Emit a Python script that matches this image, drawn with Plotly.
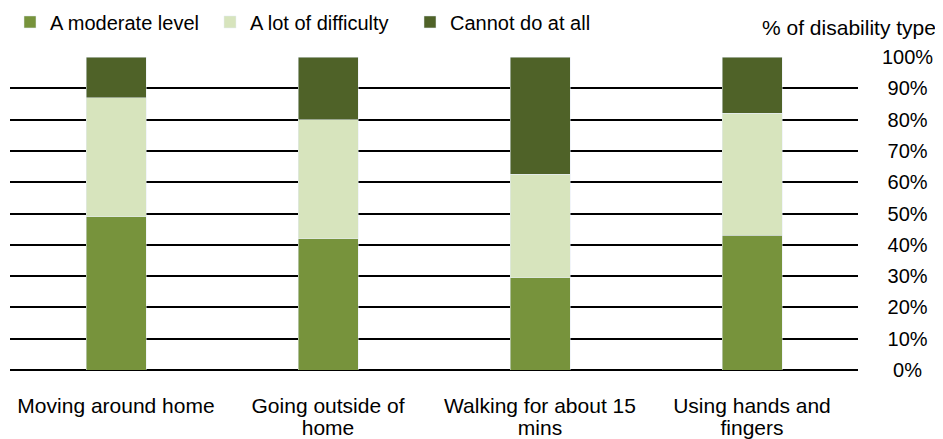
import plotly.graph_objects as go

categories = ["Moving around home", "Going outside of<br>home",
              "Walking for about 15<br>mins", "Using hands and<br>fingers"]
moderate = [49, 42, 29.5, 43]
lot_of_difficulty = [38, 38, 33, 39]
cannot = [13, 20, 37.5, 18]
tick_vals = [0, 10, 20, 30, 40, 50, 60, 70, 80, 90, 100]
tick_text = ["\u00a0\u00a00%", "\u00a010%", "\u00a020%", "\u00a030%", "\u00a040%", "\u00a050%",
             "\u00a060%", "\u00a070%", "\u00a080%", "\u00a090%", "100%"]

FONT = "Liberation Sans, Arial, sans-serif"


def big(label):
    # draw each line at 21px while the axis font (and thus the line gap) stays smaller
    return "<br>".join('<span style="font-size:21px">%s</span>' % part for part in label.split("<br>"))


fig = go.Figure()
fig.add_bar(x=categories, y=moderate, name="A moderate level", marker_color="#77933C", width=0.283)
fig.add_bar(x=categories, y=lot_of_difficulty, name="A lot of difficulty", marker_color="#D7E4BD", width=0.283)
fig.add_bar(x=categories, y=cannot, name="Cannot do at all", marker_color="#4F6228", width=0.283)

# page body has an 8px margin, so the figure is sized/offset to compensate
fig.update_layout(
    barmode="stack",
    width=935, height=431,
    margin=dict(l=2, r=85, t=49, b=69, autoexpand=False),
    plot_bgcolor="white", paper_bgcolor="white",
    font=dict(family=FONT, size=20, color="#000"),
    showlegend=True,
    legend=dict(orientation="h", x=0.0, xanchor="left", y=1.112, yanchor="middle",
                font=dict(size=20), entrywidth=155, traceorder="normal",
                itemwidth=30, bgcolor="rgba(0,0,0,0)"),
    xaxis=dict(showgrid=False, showline=False, ticks="", tickfont=dict(size=17),
               tickmode="array", tickvals=categories, ticktext=[big(c) for c in categories],
               ticklabelstandoff=25),
    yaxis=dict(side="right", range=[0, 100], tickvals=tick_vals, ticktext=tick_text,
               showgrid=True, gridcolor="#000", gridwidth=1.5, zeroline=True,
               zerolinecolor="#000", zerolinewidth=1.5, ticks="", ticklabelstandoff=23,
               tickfont=dict(size=20)),
    annotations=[dict(text="% of disability type", xref="paper", yref="paper",
                      x=1.0943, xanchor="right", y=1.093, yanchor="middle", showarrow=False,
                      font=dict(size=21))],
)
fig.write_html("out.html")
